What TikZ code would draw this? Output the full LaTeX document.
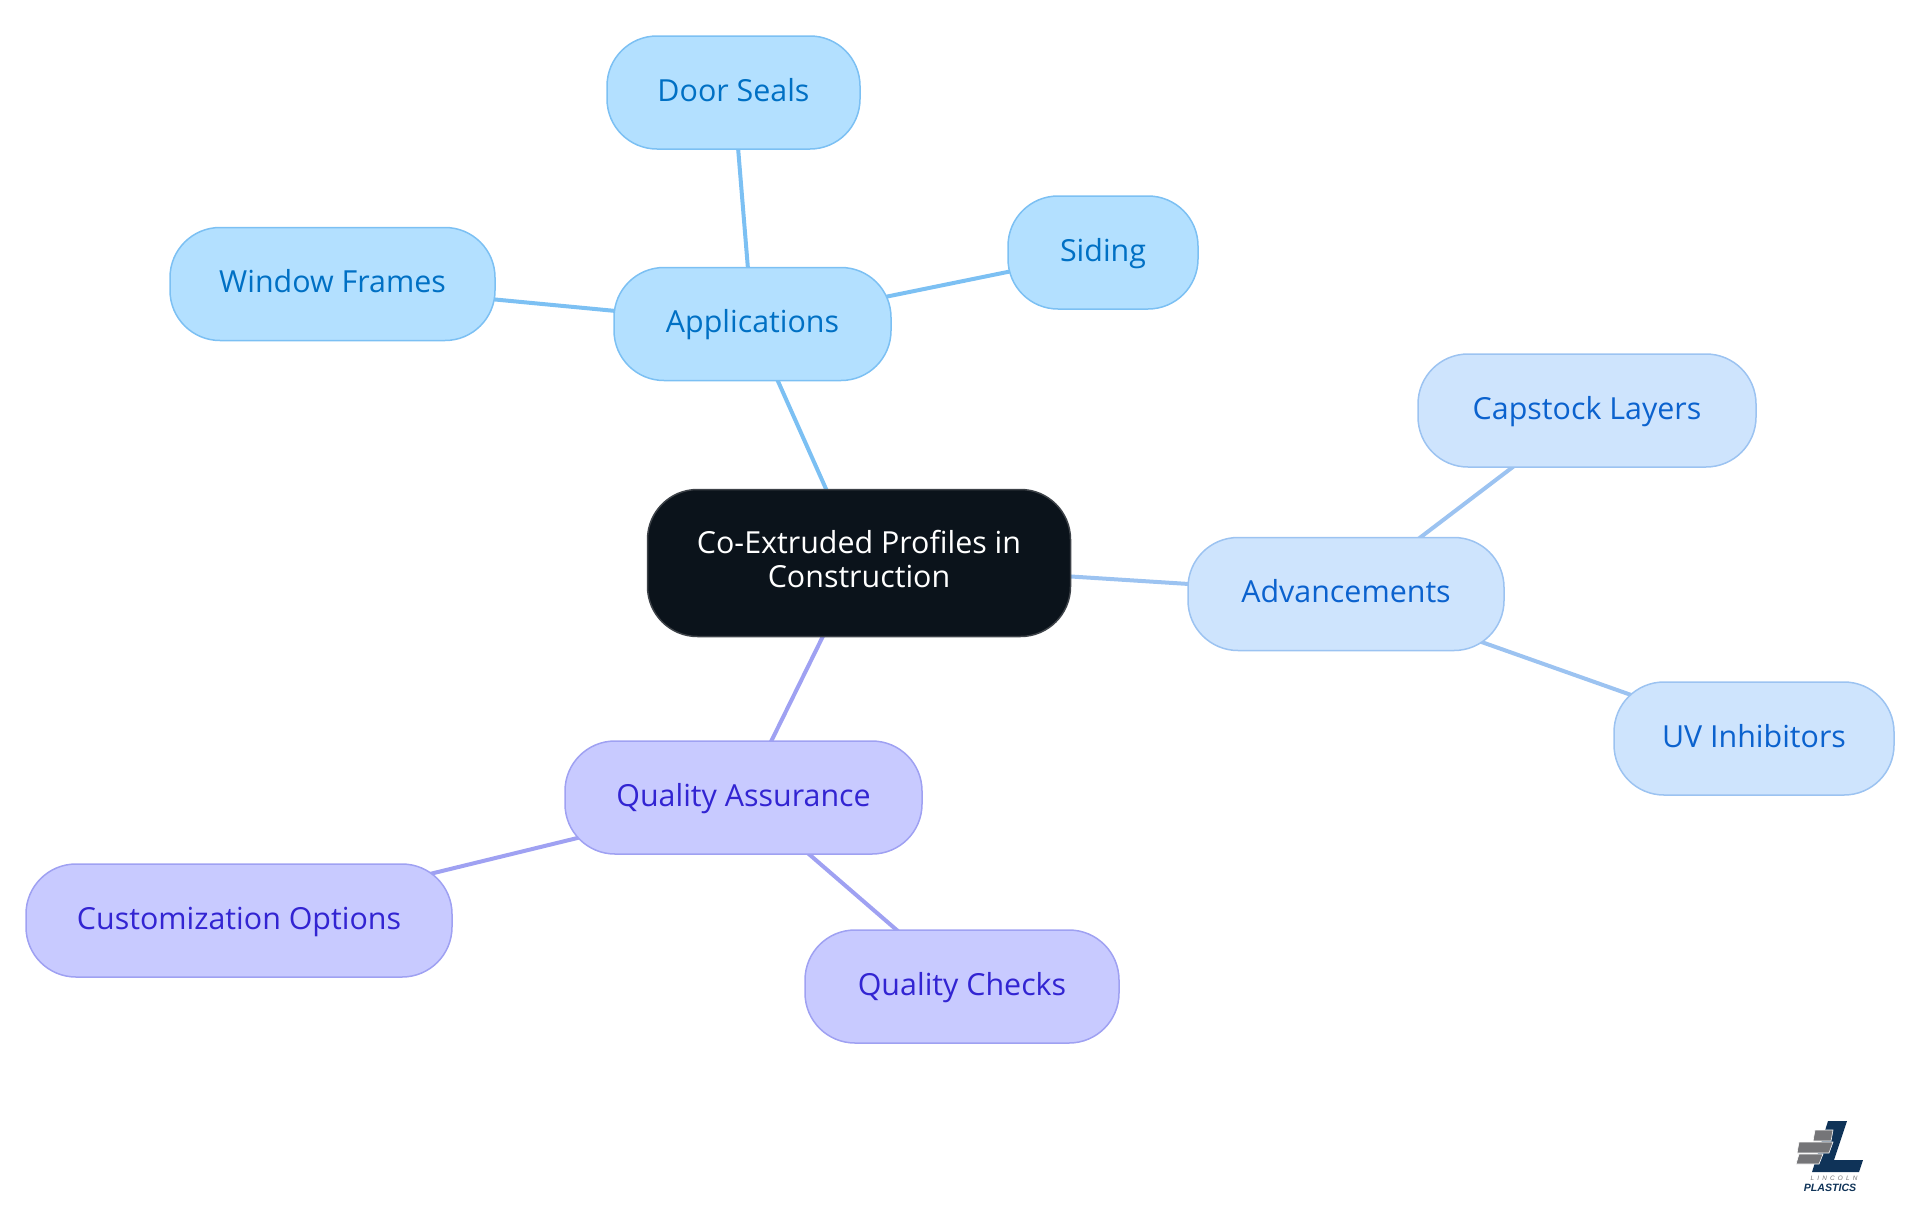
\documentclass[tikz,border=0pt]{standalone}
\usepackage{fontspec}
\setmainfont{Open Sans}
\newfontfamily\logofont{Liberation Sans}
\usetikzlibrary{backgrounds}
\definecolor{root_fill}{HTML}{0B131B}
\definecolor{root_line}{HTML}{3D4248}
\definecolor{app_fill}{HTML}{B3E0FF}
\definecolor{app_line}{HTML}{7CC0F3}
\definecolor{app_text}{HTML}{0070C4}
\definecolor{adv_fill}{HTML}{CEE4FD}
\definecolor{adv_line}{HTML}{9CC3F1}
\definecolor{adv_text}{HTML}{0B62CE}
\definecolor{qual_fill}{HTML}{C8CAFF}
\definecolor{qual_line}{HTML}{9FA1F2}
\definecolor{qual_text}{HTML}{3224D2}
\definecolor{logo_navy}{HTML}{0F3358}
\definecolor{logo_gray}{HTML}{757578}

\begin{document}
\begin{tikzpicture}[
		x=0.5pt, y=-0.5pt,
		topic/.style={draw, rectangle, line width=0.75pt, rounded corners=25pt, minimum height=56.5pt, inner sep=0pt, align=center, text height=12.3pt, text depth=3.5pt, font=\fontsize{15.2pt}{17pt}\selectfont},
		root/.style={topic, draw=root_line, fill=root_fill, text=white, minimum width=211.5pt, minimum height=73.5pt, text height=, text depth=4.5pt},
		app/.style={topic, draw=app_line, fill=app_fill, text=app_text},
		adv/.style={topic, draw=adv_line, fill=adv_fill, text=adv_text},
		qual/.style={topic, draw=qual_line, fill=qual_fill, text=qual_text},
		app_link/.style={draw=app_line, line width=2pt},
		adv_link/.style={draw=adv_line, line width=2pt},
		qual_link/.style={draw=qual_line, line width=2pt},
		brick/.style={fill=logo_gray, draw=white, line width=0.3pt},
	]
	\useasboundingbox (0, 0) rectangle (1920, 1215);

	\node[root] (profiles) at (859, 563) {Co-Extruded Profiles in \\ Construction};

	\node[app, minimum width=138.5pt] (applications) at (752.5, 324) {Applications};
	\node[app, minimum width=126.5pt] (door_seals) at (733.5, 92.5) {Door Seals};
	\node[app, minimum width=95pt] (siding) at (1103, 252.5) {Siding};
	\node[app, minimum width=162.5pt] (window_frames) at (332.5, 284) {Window Frames};

	\node[adv, minimum width=158pt] (advancements) at (1346, 594) {Advancements};
	\node[adv, minimum width=169pt] (capstock) at (1587, 410.5) {Capstock Layers};
	\node[adv, minimum width=140pt] (uv_inhibitors) at (1754, 738.5) {UV Inhibitors};

	\node[qual, minimum width=178.5pt] (quality_assurance) at (743.5, 797.5) {Quality Assurance};
	\node[qual, minimum width=213pt] (customization) at (239, 920.5) {Customization Options};
	\node[qual, minimum width=157pt] (quality_checks) at (962, 986.5) {Quality Checks};

	\begin{scope}[on background layer]
		\draw[app_link] (profiles.center) -- (applications.center);
		\draw[app_link] (applications.center) -- (door_seals.center);
		\draw[app_link] (applications.center) -- (siding.center);
		\draw[app_link] (applications.center) -- (window_frames.center);
		\draw[adv_link] (profiles.center) -- (advancements.center);
		\draw[adv_link] (advancements.center) -- (capstock.center);
		\draw[adv_link] (advancements.center) -- (uv_inhibitors.center);
		\draw[qual_link] (profiles.center) -- (quality_assurance.center);
		\draw[qual_link] (quality_assurance.center) -- (customization.center);
		\draw[qual_link] (quality_assurance.center) -- (quality_checks.center);
	\end{scope}

	% logo
	\fill[logo_navy] (1828, 1121) -- (1847, 1121) -- (1834, 1160) -- (1863, 1160) -- (1859, 1172) -- (1812, 1172) -- cycle;
	\filldraw[brick] (1815, 1130) -- (1833, 1130) -- (1831, 1141) -- (1813, 1141) -- cycle;
	\filldraw[brick] (1799, 1142) -- (1833, 1142) -- (1829, 1153) -- (1797, 1153) -- cycle;
	\filldraw[brick] (1799, 1154) -- (1823, 1154) -- (1819, 1164) -- (1796, 1164) -- cycle;
	\node[inner sep=0pt, text=logo_gray, font=\logofont\itshape\fontsize{3.2pt}{3.2pt}\selectfont] (logo_top) at (1834, 1178.5) {L\,\,\,I\,\,\,N\,\,\,C\,\,\,O\,\,\,L\,\,\,N};
	\node[inner sep=0pt, text=logo_navy, font=\logofont\bfseries\itshape\fontsize{5.3pt}{5.3pt}\selectfont] (logo_bottom) at (1830, 1188) {PLASTICS};
\end{tikzpicture}
\end{document}
